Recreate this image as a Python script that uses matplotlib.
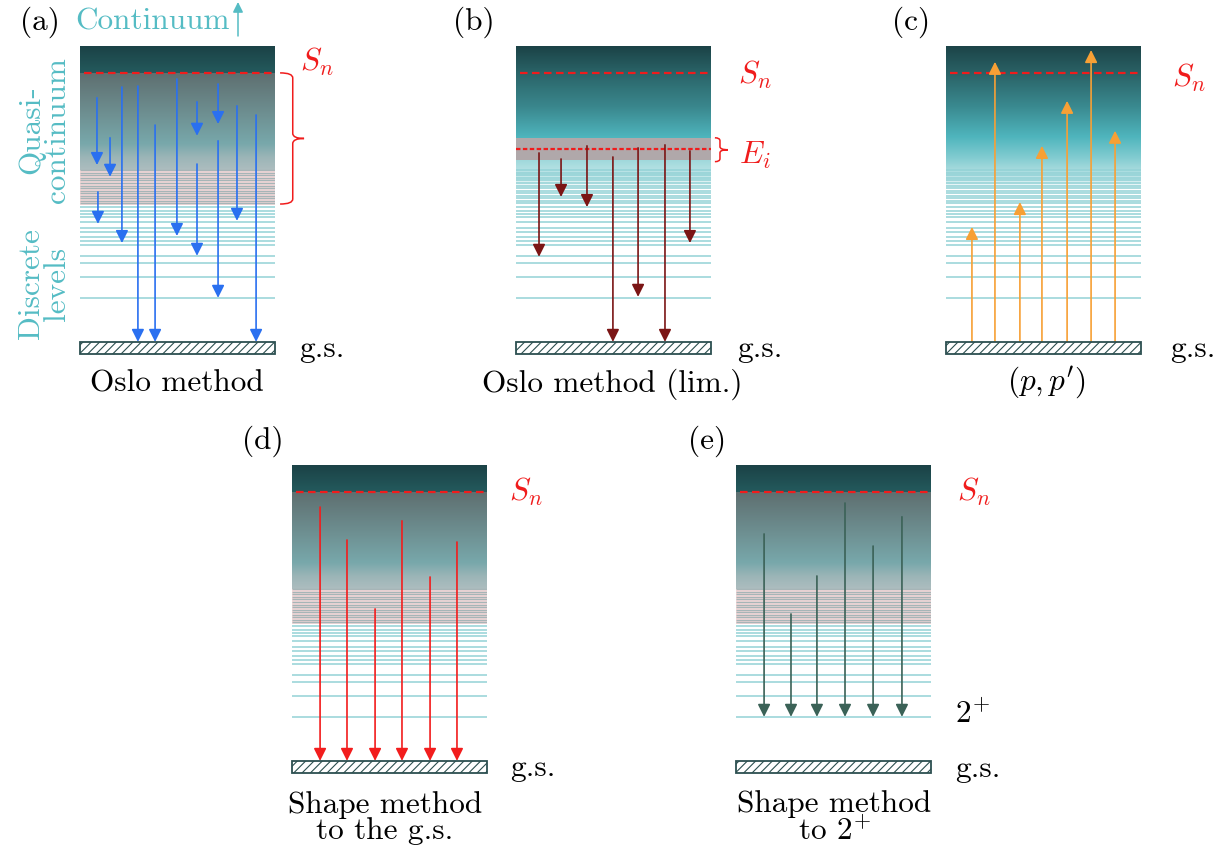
import numpy as np
import matplotlib.pyplot as plt
from matplotlib.colors import LinearSegmentedColormap
from matplotlib.patches import Rectangle, PathPatch
from matplotlib.path import Path

plt.rcParams['font.family'] = 'cmr10'
plt.rcParams['mathtext.fontset'] = 'cm'
plt.rcParams['axes.unicode_minus'] = False
plt.rcParams['hatch.linewidth'] = 0.8

W, H = 1223, 854
FS = 22.5

# energies in MeV
S_N = 8.0
E_TOP = 8.8
E_BAR = -0.36
discrete_levels = [1.31, 1.93, 2.35, 2.56, 2.88, 3.00, 3.12, 3.27, 3.39, 3.57,
                   3.72, 3.81, 3.90, 4.01]
dense_levels = [4.12, 4.20, 4.27, 4.35, 4.43, 4.50, 4.57, 4.65, 4.72, 4.80,
                4.87, 4.95, 5.02, 5.10]
level_2plus = 1.31
e_i = 5.74
e_i_band = (5.41, 6.07)

# (a) Oslo method: x in box, initial and final energy
oslo_x = [0.087, 0.154, 0.092, 0.215, 0.297, 0.385, 0.497, 0.600, 0.600,
          0.708, 0.708, 0.805, 0.903]
oslo_from = [7.26, 6.07, 4.46, 7.58, 7.61, 6.45, 7.82, 7.14, 5.29, 7.67, 5.98,
             7.02, 6.75]
oslo_to = [5.26, 4.91, 3.51, 2.94, 0.0, 0.0, 3.15, 6.13, 2.56, 6.48, 1.31,
           3.60, 0.0]

# (b) Oslo method, limited to E_i
lim_x = [0.118, 0.231, 0.364, 0.497, 0.626, 0.764, 0.892]
lim_from = [5.62, 5.44, 5.83, 5.50, 5.77, 5.86, 5.68]
lim_to = [2.53, 4.31, 4.01, 0.0, 1.34, 0.0, 2.94]

# (c) (p,p') excitations from the ground state
pp_x = [0.133, 0.251, 0.379, 0.492, 0.621, 0.744, 0.867]
pp_to = [3.42, 8.33, 4.16, 5.83, 7.17, 8.68, 6.28]

# (d) shape method to the g.s.
sgs_x = [0.144, 0.282, 0.426, 0.564, 0.708, 0.846]
sgs_from = [7.55, 6.57, 4.52, 7.14, 5.47, 6.51]

# (e) shape method to 2+
s2_x = [0.144, 0.282, 0.415, 0.559, 0.703, 0.851]
s2_from = [6.75, 4.37, 5.50, 7.67, 6.39, 7.26]

TEAL_TXT = '#55bcc4'
LEVEL = '#93d2d6'
RED = '#f01c1c'
HEAD = '-|>,head_length=0.5,head_width=0.25'

fig = plt.figure(figsize=(W / 100, H / 100), dpi=100)


def fig_text(x, y, s, **kw):
    kw.setdefault('fontsize', FS)
    kw.setdefault('va', 'center')
    fig.text(x / W, 1 - y / H, s, **kw)


def make_ax(x0, y0):
    ax = fig.add_axes([x0 / W, 1 - (y0 + 308) / H, 195 / W, 308 / H])
    ax.set_xlim(0, 1)
    ax.set_ylim(E_BAR, E_TOP)
    ax.axis('off')
    return ax


def vgrad(ax, stops, lo, hi):
    cmap = LinearSegmentedColormap.from_list(
        'g', [((e - lo) / (hi - lo), c) for e, c in stops])
    ax.imshow(np.linspace(0, 1, 256).reshape(-1, 1), cmap=cmap,
              extent=[0, 1, lo, hi], origin='lower', aspect='auto', zorder=0)


def levels(ax, es, color, lw=1.1):
    for e in es:
        ax.plot([0, 1], [e, e], color=color, lw=lw, zorder=1,
                solid_capstyle='butt')


def ground(ax):
    ax.add_patch(Rectangle((0, E_BAR), 1, -E_BAR, facecolor='white',
                           edgecolor='#2c4f50', hatch='////', lw=1.3,
                           zorder=5, clip_on=False))


def sn_line(ax):
    ax.plot([0.02, 1], [S_N, S_N], color=RED, lw=1.6, ls=(0, (3.4, 2.0)),
            zorder=3)


def arrow(ax, x, e0, e1, color):
    ax.annotate('', xy=(x, e1), xytext=(x, e0),
                arrowprops=dict(arrowstyle=HEAD, color=color, lw=1.2,
                                mutation_scale=15, shrinkA=0, shrinkB=0),
                zorder=4, annotation_clip=False)


def brace(ax, x0, xv, xt, top, bot, r):
    mid = 0.5 * (top + bot)
    verts = [(x0, top), (xv, top), (xv, top - r),
             (xv, mid + r),
             (xv, mid), (xt, mid),
             (xv, mid), (xv, mid - r),
             (xv, bot + r),
             (xv, bot), (x0, bot)]
    codes = [Path.MOVETO, Path.CURVE3, Path.CURVE3,
             Path.LINETO,
             Path.CURVE3, Path.CURVE3,
             Path.CURVE3, Path.CURVE3,
             Path.LINETO,
             Path.CURVE3, Path.CURVE3]
    ax.add_patch(PathPatch(Path(verts, codes), fill=False, edgecolor=RED,
                           lw=1.1, clip_on=False, zorder=5))


def gray_panel(ax):
    # dark continuum above S_n, grey quasi-continuum below
    vgrad(ax, [(S_N, '#245a5d'), (E_TOP, '#1b4246')], S_N, E_TOP)
    vgrad(ax, [(5.12, '#adbdbf'), (5.5, '#9bb5b7'), (5.9, '#78a8ab'),
               (6.7, '#6f9294'), (S_N, '#5e6f70')], 5.12, S_N)
    ax.add_patch(Rectangle((0, min(dense_levels) - 0.05), 1,
                           5.12 - min(dense_levels) + 0.05,
                           facecolor='#f5d9d9', edgecolor='none', zorder=0))
    levels(ax, dense_levels, '#a6b5b7', lw=1.0)


# (a) Oslo method
ax_a = make_ax(80, 47)
gray_panel(ax_a)
levels(ax_a, discrete_levels, LEVEL)
sn_line(ax_a)
ground(ax_a)
for x, e0, e1 in zip(oslo_x, oslo_from, oslo_to):
    arrow(ax_a, x, e0, e1, '#2a70f0')
brace(ax_a, 1.026, 1.091, 1.149, S_N, min(dense_levels) - 0.02, 0.15)

# (b) Oslo method with limited E_i
ax_b = make_ax(516, 47)
vgrad(ax_b, [(e_i_band[1], '#4fb6be'), (7.0, '#3a878d'), (S_N, '#2a6468'),
             (E_TOP, '#1b4246')], e_i_band[1], E_TOP)
vgrad(ax_b, [(4.55, '#ffffff'), (4.9, '#c5e8ea'), (e_i_band[0], '#9fd8db')],
      4.55, e_i_band[0])
levels(ax_b, dense_levels + discrete_levels, LEVEL)
ax_b.add_patch(Rectangle((0, e_i_band[0]), 1, e_i_band[1] - e_i_band[0],
                         facecolor='#b0a8aa', edgecolor='none', zorder=2))
sn_line(ax_b)
ax_b.plot([0.0, 1], [e_i, e_i], color=RED, lw=1.6, ls=(0, (2.0, 1.1)),
          zorder=3)
ground(ax_b)
for x, e0, e1 in zip(lim_x, lim_from, lim_to):
    arrow(ax_b, x, e0, e1, '#7b1515')
brace(ax_b, 1.02, 1.046, 1.087, e_i_band[1], e_i_band[0] - 0.05, 0.09)

# (c) (p,p')
ax_c = make_ax(946, 47)
vgrad(ax_c, [(4.55, '#ffffff'), (4.85, '#c2e7ea'), (5.15, '#a3d9dc'),
             (5.5, '#80cbd0'), (6.1, '#4fb5bd'), (7.0, '#3a8a90'),
             (S_N, '#2a6266'), (E_TOP, '#1c4448')], 4.55, E_TOP)
levels(ax_c, dense_levels + discrete_levels, LEVEL)
sn_line(ax_c)
ground(ax_c)
for x, e1 in zip(pp_x, pp_to):
    arrow(ax_c, x, 0.0, e1, '#f7a035')

# (d) shape method to the g.s.
ax_d = make_ax(292, 466)
gray_panel(ax_d)
levels(ax_d, discrete_levels, LEVEL)
sn_line(ax_d)
ground(ax_d)
for x, e0 in zip(sgs_x, sgs_from):
    arrow(ax_d, x, e0, 0.0, '#f21d1d')

# (e) shape method to 2+
ax_e = make_ax(736, 466)
gray_panel(ax_e)
levels(ax_e, discrete_levels, LEVEL)
sn_line(ax_e)
ground(ax_e)
for x, e0 in zip(s2_x, s2_from):
    arrow(ax_e, x, e0, level_2plus, '#3b6257')

# panel letters
for s, x, y in [('(a)', 40, 22), ('(b)', 474, 22), ('(c)', 911, 22),
                ('(d)', 263, 441), ('(e)', 707, 441)]:
    fig_text(x, y, s, ha='center')

# side labels of (a)
fig_text(75, 22, 'Continuum', ha='left', color=TEAL_TXT)
ax_a.annotate('', xy=(238 / W, 1 - 3 / H), xytext=(238 / W, 1 - 37 / H),
              xycoords='figure fraction',
              arrowprops=dict(arrowstyle=HEAD, color=TEAL_TXT, lw=1.1,
                              mutation_scale=12, shrinkA=0, shrinkB=0))
fig_text(44, 130, 'Quasi-\ncontinuum', ha='center', rotation=90,
         color=TEAL_TXT, linespacing=0.92, multialignment='center')
fig_text(44, 284, 'Discrete\nlevels', ha='center', rotation=90,
         color=TEAL_TXT, linespacing=0.92, multialignment='center')

# S_n, E_i, g.s. and 2+ labels
for x, y in [(300, 62), (738, 75), (1172, 78), (509, 492), (957, 492)]:
    fig_text(x, y, r'$S_n$', ha='left', color=RED)
fig_text(739, 155, r'$E_i$', ha='left', color=RED)
for x, y in [(299, 349), (737, 349), (1170, 349), (510, 768), (955, 769)]:
    fig_text(x, y, 'g.s.', ha='left')
fig_text(955, 714, r'$2^{+}$', ha='left')

# captions
fig_text(177, 384, 'Oslo method', ha='center')
fig_text(612, 384, 'Oslo method (lim.)', ha='center')
fig_text(1046, 383, r"$(p,p')$", ha='center')
fig_text(385, 818, 'Shape method\nto the g.s.', ha='center', linespacing=0.92,
         multialignment='center')
fig_text(834, 818, 'Shape method\nto $2^{+}$', ha='center', linespacing=0.92,
         multialignment='center')

fig.savefig('out.png', dpi=100)
